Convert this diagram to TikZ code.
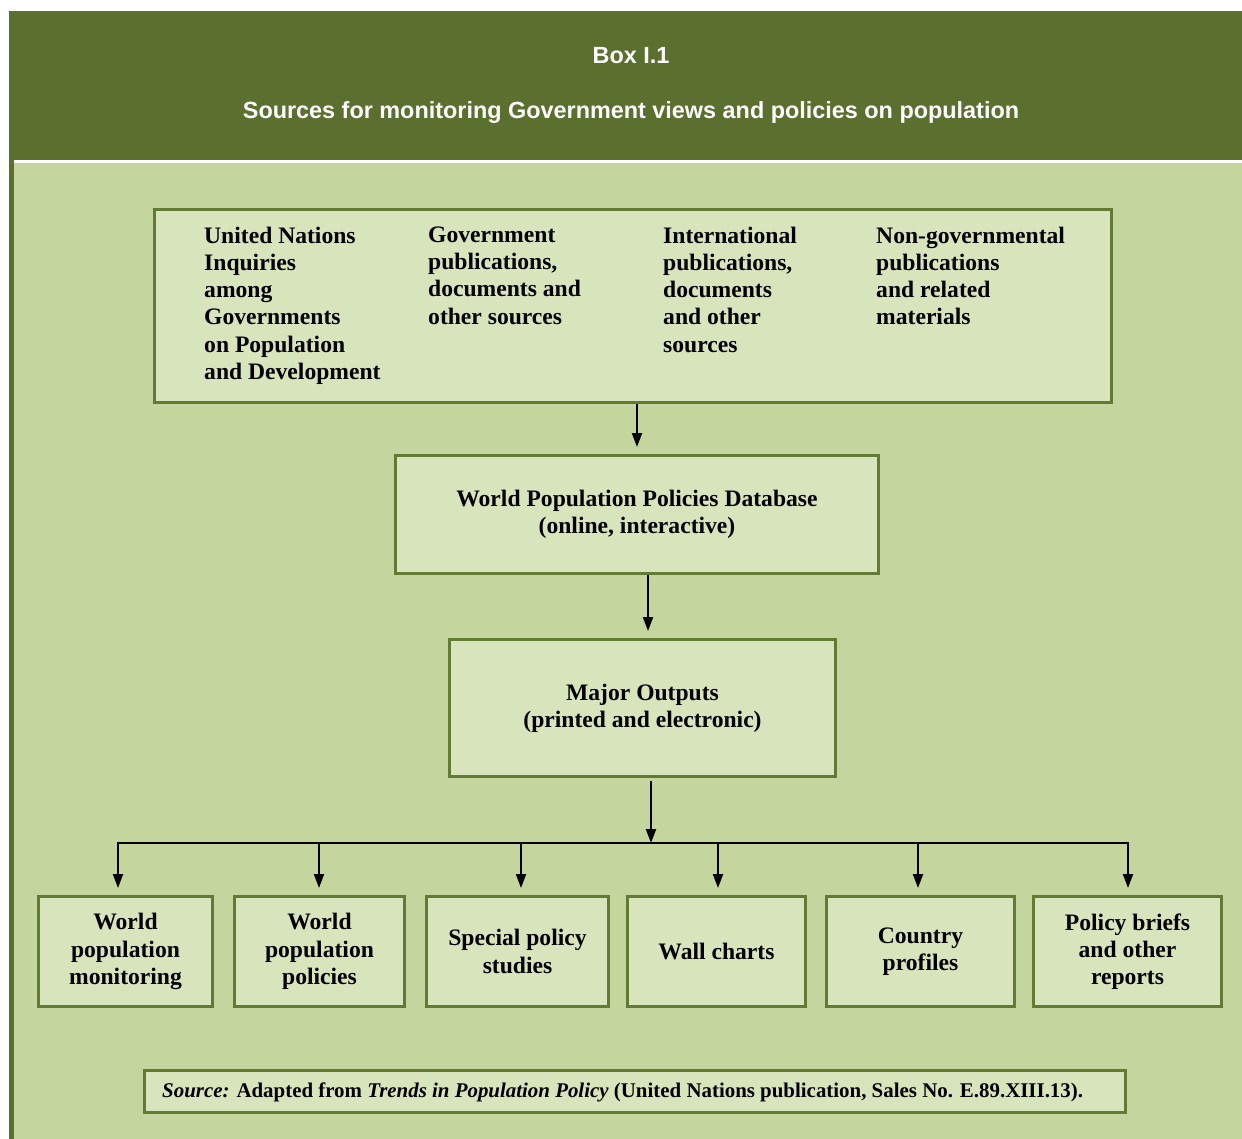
\documentclass[tikz,border=0pt]{standalone}
\usepackage{fontspec}
\setmainfont{Liberation Serif}
\newfontfamily\hdrfont{Liberation Sans}
\usetikzlibrary{arrows.meta}
\definecolor{darkgreen}{RGB}{91,111,47}
\definecolor{lightgreen}{RGB}{196,214,157}
\definecolor{boxfill}{RGB}{216,228,188}
\definecolor{boxline}{RGB}{98,122,52}
\begin{document}
\begin{tikzpicture}[x=1pt,y=-1pt,
 box/.style={draw=boxline, fill=boxfill, line width=3pt, inner sep=0pt},
 body/.style={font=\fontsize{23.6}{27.3}\selectfont\bfseries, text=black},
 coltext/.style={body, align=left, anchor=north west, inner sep=0pt},
 hdr/.style={font=\hdrfont\bfseries\fontsize{23.4}{26}\selectfont, text=white},
 conn/.style={line width=2pt, -{Triangle[length=14pt,width=10pt]}},
 bottombox/.style={box, body, align=center, minimum height=110pt},
]
\useasboundingbox (0,0) rectangle (1242,1139);
\fill[white] (0,0) rectangle (1242,1139);
\fill[darkgreen] (9,11) rectangle (1242,1139);
\fill[white] (14,160) rectangle (1242,163.5);
\fill[lightgreen] (14,163.5) rectangle (1242,1139);

\node[hdr] (boxno) at (631,56) {Box I.1};
\node[hdr] (title) at (631,112.5) {Sources for monitoring Government views and policies on population};

\node[box, minimum width=957pt, minimum height=193pt] (src) at (633,306) {};
\node[coltext] (c1) at (204,226.5) {United Nations\\Inquiries\\among\\Governments\\on Population\\and Development};
\node[coltext] (c2) at (428,226.5) {Government\\publications,\\documents and\\other sources};
\node[coltext] (c3) at (663,226.5) {International\\publications,\\documents\\and other\\sources};
\node[coltext] (c4) at (876,226.5) {Non-governmental\\publications\\and related\\materials};

\node[box, body, align=center, minimum width=483pt, minimum height=118pt] (db) at (637,514.5) {World Population Policies Database\\(online, interactive)};
\node[box, body, align=center, minimum width=386pt, minimum height=137pt] (mo) at (642.5,708) {Major Outputs\\(printed and electronic)};

\node[bottombox, minimum width=174pt] (b1) at (125.5,951.5) {World\\population\\monitoring};
\node[bottombox, minimum width=170pt] (b2) at (319.5,951.5) {World\\population\\policies};
\node[bottombox, minimum width=182pt] (b3) at (517.5,951.5) {Special policy\\studies};
\node[bottombox, minimum width=178pt] (b4) at (716.5,951.5) {Wall charts};
\node[bottombox, minimum width=188pt] (b5) at (920.5,951.5) {Country\\profiles};
\node[bottombox, minimum width=188pt] (b6) at (1127.5,951.5) {Policy briefs\\and other\\reports};

\node[box, minimum width=981pt, minimum height=42pt] (note) at (635,1091.5) {};
\node[anchor=west, inner sep=0pt, font=\fontsize{20.9}{24}\selectfont\bfseries] (notetext) at (162,1092.5) {\textit{Source:} Adapted from \textit{Trends in Population Policy} (United Nations publication, Sales No. E.89.XIII.13).};

\coordinate (a1) at (637,0);
\coordinate (a2) at (648,0);
\coordinate (hub) at (651,843);
\coordinate (d1) at (118,0);
\coordinate (d2) at (319,0);
\coordinate (d3) at (521,0);
\coordinate (d4) at (718,0);
\coordinate (d5) at (918,0);
\coordinate (d6) at (1128,0);

\draw[conn, shorten >=7pt] (src.south -| a1) -- (db.north -| a1);
\draw[conn, shorten >=7pt] (db.south -| a2) -- (mo.north -| a2);
\draw[conn, shorten <=3pt] (mo.south -| hub) -- (hub);
\draw[conn, shorten >=7pt] (hub) -| (b1.north -| d1);
\draw[conn, shorten >=7pt] (hub) -| (b6.north -| d6);
\draw[conn, shorten >=7pt] (hub -| d2) -- (b2.north -| d2);
\draw[conn, shorten >=7pt] (hub -| d3) -- (b3.north -| d3);
\draw[conn, shorten >=7pt] (hub -| d4) -- (b4.north -| d4);
\draw[conn, shorten >=7pt] (hub -| d5) -- (b5.north -| d5);
\end{tikzpicture}
\end{document}
